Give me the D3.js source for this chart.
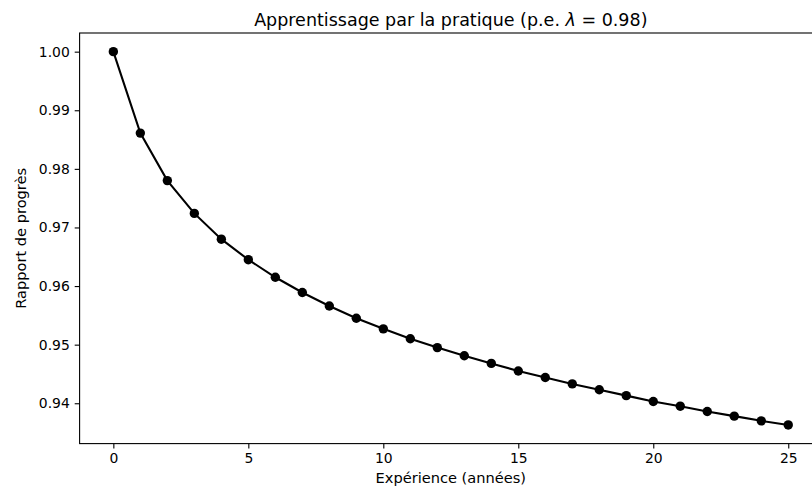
<!DOCTYPE html>
<html><head><meta charset="utf-8">
<script src="https://cdn.jsdelivr.net/npm/d3@7"></script>
<style>body{margin:0;background:#fff}svg{display:block}text{font-family:"DejaVu Sans",sans-serif;fill:#000}</style>
</head><body>
<script>
const experience = [0,1,2,3,4,5,6,7,8,9,10,11,12,13,14,15,16,17,18,19,20,21,22,23,24,25];
const progressRatio = [1.0000,0.9861,0.9780,0.9724,0.9680,0.9645,0.9615,0.9589,0.9566,0.9545,0.9527,0.9510,0.9495,0.9481,0.9468,0.9455,0.9444,0.9433,0.9423,0.9413,0.9403,0.9395,0.9386,0.9378,0.9370,0.9363];
const xTicks = [0,5,10,15,20,25];
const yTicks = [0.94,0.95,0.96,0.97,0.98,0.99,1.00];

const W=812,H=494;
const L=79.6,R=822,T=33,B=443.6;
const svg=d3.select("body").append("svg").attr("width",W).attr("height",H);
const xmin=d3.min(experience),xmax=d3.max(experience);
const ymin=d3.min(progressRatio),ymax=d3.max(progressRatio);
const xm=(xmax-xmin)*0.05, ym=(ymax-ymin)*0.05;
const x=d3.scaleLinear().domain([xmin-xm,xmax+xm]).range([L,R]);
const y=d3.scaleLinear().domain([ymin-ym,ymax+ym]).range([B,T]);

const xAxis=d3.axisBottom(x).tickValues(xTicks).tickFormat(d3.format("d")).tickSize(4.9).tickPadding(4.9);
const yAxis=d3.axisLeft(y).tickValues(yTicks).tickFormat(d3.format(".2f")).tickSize(4.9).tickPadding(4.9);
const gx=svg.append("g").attr("transform",`translate(0,${B})`).call(xAxis);
const gy=svg.append("g").attr("transform",`translate(${L},0)`).call(yAxis);
[gx,gy].forEach(g=>{
  g.select(".domain").remove();
  g.selectAll("line").attr("stroke","#000").attr("stroke-width",1.1);
  g.selectAll("text").style("font-size","13.9px").attr("fill","#000");
});
// spines
svg.append("rect").attr("x",L).attr("y",T).attr("width",R-L).attr("height",B-T)
  .attr("fill","none").attr("stroke","#000").attr("stroke-width",1.1);

const line=d3.line().x((d,i)=>x(experience[i])).y(d=>y(d));
svg.append("path").datum(progressRatio).attr("d",line).attr("fill","none").attr("stroke","#000").attr("stroke-width",2.08);
svg.append("g").selectAll("circle").data(progressRatio).join("circle")
  .attr("cx",(d,i)=>x(experience[i])).attr("cy",d=>y(d)).attr("r",4.7).attr("fill","#000");

const title=svg.append("text").attr("x",(L+R)/2).attr("y",25.5).attr("text-anchor","middle").style("font-size","17.5px");
title.append("tspan").text("Apprentissage par la pratique (p.e. ");
title.append("tspan").style("font-style","italic").text("λ");
title.append("tspan").text(" = 0.98)");

svg.append("text").attr("x",(L+R)/2).attr("y",483).attr("text-anchor","middle").style("font-size","14.6px").text("Expérience (années)");
svg.append("text").attr("transform",`translate(26,${(T+B)/2}) rotate(-90)`).attr("text-anchor","middle").style("font-size","14.6px").text("Rapport de progrès");
</script>
</body></html>
